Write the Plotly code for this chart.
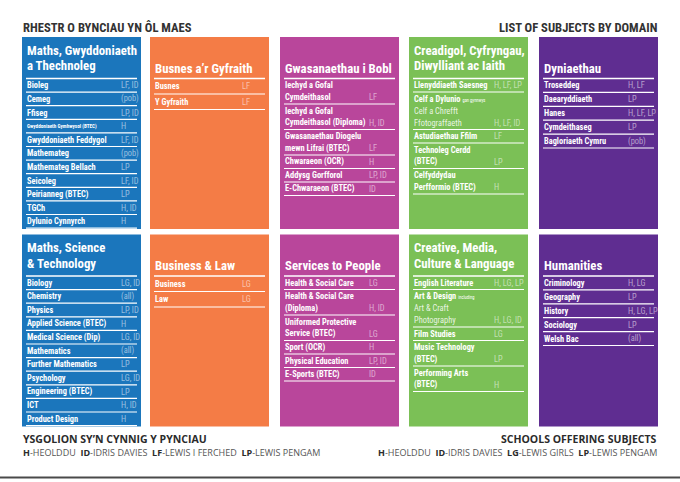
import plotly.graph_objects as go

# ---------------- data ----------------
header_left = "RHESTR O BYNCIAU YN ÔL MAES"
header_right = "LIST OF SUBJECTS BY DOMAIN"
footer_left_title = "YSGOLION SY’N CYNNIG Y PYNCIAU"
footer_right_title = "SCHOOLS OFFERING SUBJECTS"
legend_codes_cy = ["H", "ID", "LF", "LP"]
legend_names_cy = ["HEOLDDU", "IDRIS DAVIES", "LEWIS I FERCHED", "LEWIS PENGAM"]
legend_codes_en = ["H", "ID", "LG", "LP"]
legend_names_en = ["HEOLDDU", "IDRIS DAVIES", "LEWIS GIRLS", "LEWIS PENGAM"]

titles_cy = ["Maths, Gwyddoniaeth\na Thechnoleg", "Busnes a’r Gyfraith", "Gwasanaethau i Bobl",
             "Creadigol, Cyfryngau,\nDiwylliant ac Iaith", "Dyniaethau"]
titles_en = ["Maths, Science\n& Technology", "Business & Law", "Services to People",
             "Creative, Media,\nCulture & Language", "Humanities"]

maths_cy_subjects = ["Bioleg", "Cemeg", "Ffiseg", "Gwyddoniaeth Gymhwysol (BTEC)", "Gwyddoniaeth Feddygol",
                     "Mathemateg", "Mathemateg Bellach", "Seicoleg", "Peirianneg (BTEC)", "TGCh", "Dylunio Cynnyrch"]
maths_cy_schools = ["LF, ID", "(pob)", "LP, ID", "H", "LF, ID", "(pob)", "LP", "LF, ID", "LP", "H, ID", "H"]
business_cy_subjects = ["Busnes", "Y Gyfraith"]
business_cy_schools = ["LF", "LF"]
services_cy_subjects = ["Iechyd a Gofal\nCymdeithasol", "Iechyd a Gofal\nCymdeithasol (Diploma)",
                        "Gwasanaethau Diogelu\nmewn Lifrai (BTEC)", "Chwaraeon (OCR)", "Addysg Gorfforol",
                        "E-Chwaraeon (BTEC)"]
services_cy_schools = ["LF", "H, ID", "LF", "H", "LP, ID", "ID"]
creative_cy_subjects = ["Llenyddiaeth Saesneg", "Celf a Dylunio", "Astudiaethau Ffilm", "Technoleg Cerdd\n(BTEC)",
                        "Celfyddydau\nPerfformio (BTEC)"]
creative_cy_schools = ["H, LF, LP", "H, LF, ID", "LF", "LP", "H"]
creative_cy_includes = {"Celf a Dylunio": ("gan gynnwys", ["Celf a Chrefft", "Ffotograffaeth"])}
humanities_cy_subjects = ["Troseddeg", "Daearyddiaeth", "Hanes", "Cymdeithaseg", "Bagloriaeth Cymru"]
humanities_cy_schools = ["H, LF", "LP", "H, LF, LP", "LP", "(pob)"]

maths_en_subjects = ["Biology", "Chemistry", "Physics", "Applied Science (BTEC)", "Medical Science (Dip)",
                     "Mathematics", "Further Mathematics", "Psychology", "Engineering (BTEC)", "ICT", "Product Design"]
maths_en_schools = ["LG, ID", "(all)", "LP, ID", "H", "LG, ID", "(all)", "LP", "LG, ID", "LP", "H, ID", "H"]
business_en_subjects = ["Business", "Law"]
business_en_schools = ["LG", "LG"]
services_en_subjects = ["Health & Social Care", "Health & Social Care\n(Diploma)", "Uniformed Protective\nService (BTEC)",
                        "Sport (OCR)", "Physical Education", "E-Sports (BTEC)"]
services_en_schools = ["LG", "H, ID", "LG", "H", "LP, ID", "ID"]
creative_en_subjects = ["English Literature", "Art & Design", "Film Studies", "Music Technology\n(BTEC)",
                        "Performing Arts\n(BTEC)"]
creative_en_schools = ["H, LG, LP", "H, LG, ID", "LG", "LP", "H"]
creative_en_includes = {"Art & Design": ("including", ["Art & Craft", "Photography"])}
humanities_en_subjects = ["Criminology", "Geography", "History", "Sociology", "Welsh Bac"]
humanities_en_schools = ["H, LG", "LP", "H, LG, LP", "LP", "(all)"]

tiny_labels = ["Gwyddoniaeth Gymhwysol (BTEC)"]

rows_cy = [(maths_cy_subjects, maths_cy_schools, {}), (business_cy_subjects, business_cy_schools, {}),
           (services_cy_subjects, services_cy_schools, {}), (creative_cy_subjects, creative_cy_schools, creative_cy_includes),
           (humanities_cy_subjects, humanities_cy_schools, {})]
rows_en = [(maths_en_subjects, maths_en_schools, {}), (business_en_subjects, business_en_schools, {}),
           (services_en_subjects, services_en_schools, {}), (creative_en_subjects, creative_en_schools, creative_en_includes),
           (humanities_en_subjects, humanities_en_schools, {})]

# ---------------- style ----------------
W, H = 680, 482
COND = "Liberation Sans Narrow, Roboto Condensed, DejaVu Sans Condensed, Liberation Sans, sans-serif"
HUM = "Open Sans, Noto Sans, Liberation Sans, sans-serif"
cols = [
    dict(left=22, color="#1B76BC", code_dx=98, pitch=13.6),
    dict(left=150, color="#F47C46", code_dx=91, pitch=15.5),
    dict(left=280, color="#B9469B", code_dx=88, pitch=13.5),
    dict(left=409, color="#7BC056", code_dx=84, pitch=13.5),
    dict(left=539, color="#5F2D91", code_dx=88, pitch=13.9),
]
PW = 119
row_tops = [37, 234.5]
LINE = 12
ROW_FS = 8.4
TITLE_FS = 12.8
CODE_COLOR = "rgba(255,255,255,0.55)"

shapes, annos = [], []


def txt(x, y, s, size, color="white", family=COND, weight="normal", xanchor="left"):
    annos.append(dict(x=x, y=y, xref="x", yref="y", text=s, showarrow=False, xanchor=xanchor,
                      yanchor="middle", borderpad=0,
                      font=dict(family=family, size=size, color=color, weight=weight)))


def hline(x0, x1, y, w=1.2, color="white"):
    shapes.append(dict(type="line", xref="x", yref="y", x0=x0, x1=x1, y0=y, y1=y,
                       line=dict(color=color, width=w), layer="above"))


for r, (titles, rows) in enumerate([(titles_cy, rows_cy), (titles_en, rows_en)]):
    top = row_tops[r]
    for c, cfg in enumerate(cols):
        L = cfg["left"]
        shapes.append(dict(type="rect", xref="x", yref="y", x0=L, x1=L + PW, y0=top, y1=top + 192,
                           fillcolor=cfg["color"], line=dict(width=0), layer="below"))
        tx = L + 4
        # title
        tlines = titles[c].split("\n")
        if len(tlines) == 2:
            txt(tx, top + 13, tlines[0], TITLE_FS, weight="bold")
            txt(tx, top + 28.5, tlines[1], TITLE_FS, weight="bold")
        else:
            txt(tx, top + 31, tlines[0], TITLE_FS, weight="bold")
        sep = top + 41.5
        hline(L + 4, L + PW - 4, sep, w=1.6)
        subjects, schools, includes = rows[c]
        half = cfg["pitch"] / 2
        y = sep + half
        for subj, code in zip(subjects, schools):
            lines = subj.split("\n")
            extra = []
            if subj in includes:
                note, subs = includes[subj]
                lines = [f"{subj} <span style='font-size:4.5px;font-weight:normal'>{note}</span>"]
                extra = subs
            for i, ln in enumerate(lines):
                size = 5.2 if ln in tiny_labels else ROW_FS
                txt(tx, y + i * LINE, ln, size, weight="bold")
            for j, ln in enumerate(extra):
                txt(tx, y + (len(lines) + j) * LINE, ln, ROW_FS, color="rgba(255,255,255,0.85)")
            nl = len(lines) + len(extra)
            last = y + (nl - 1) * LINE
            txt(L + cfg["code_dx"], last, code, ROW_FS, color=CODE_COLOR)
            sep_y = last + half
            hline(L + 4, L + PW - 4, sep_y)
            y = sep_y + half

# header
txt(22, 27, header_left, 12.6, color="#333333", weight="bold")
txt(658, 27, header_right, 12.6, color="#333333", weight="bold", xanchor="right")

# footer
def legend_text(codes, names):
    return "  ".join(f"<b>{c}</b><span style='color:#555555'>-{n}</span>" for c, n in zip(codes, names))

txt(22, 439, footer_left_title, 10.5, color="#2b2b2b", family=HUM, weight="bold")
txt(22, 452, legend_text(legend_codes_cy, legend_names_cy), 9, color="#2b2b2b", family=HUM)
txt(658, 439, footer_right_title, 10.5, color="#2b2b2b", family=HUM, weight="bold", xanchor="right")
txt(658, 452, legend_text(legend_codes_en, legend_names_en), 9, color="#2b2b2b", family=HUM, xanchor="right")

hline(0, W, 477.5, w=2, color="#4a4a4a")

fig = go.Figure()
fig.update_layout(
    width=W, height=H, autosize=False, margin=dict(l=0, r=0, t=0, b=0),
    paper_bgcolor="white", plot_bgcolor="white", showlegend=False,
    xaxis=dict(range=[0, W], visible=False, fixedrange=True),
    yaxis=dict(range=[H, 0], visible=False, fixedrange=True),
    shapes=shapes, annotations=annos,
)
fig.write_html("out.html", config={"displayModeBar": False, "staticPlot": True},
               post_script="document.body.style.margin='0';document.body.style.overflow='hidden';")
